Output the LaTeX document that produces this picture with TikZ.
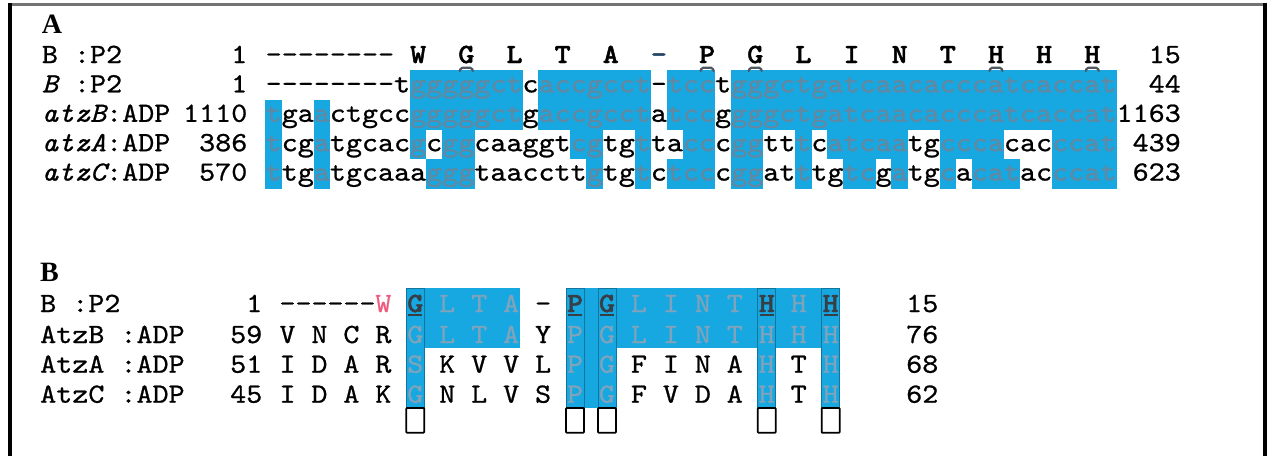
\documentclass[tikz,border=0pt]{standalone}
\usepackage{fontspec}
\newfontfamily\seqfont{lmmono10-regular}[Extension=.otf, ItalicFont=lmmono10-italic, FakeStretch=1.1, FakeBold=0.8]
\newfontfamily\seqbfont{lmmonolt10-bold}[Extension=.otf, FakeStretch=1.1, FakeBold=1.6]
\newfontfamily\panelfont{Liberation Serif}
\definecolor{hlblue}{RGB}{24,168,225}
\definecolor{shdA}{RGB}{98,136,162}
\definecolor{shdB}{RGB}{128,163,188}
\definecolor{consB}{RGB}{55,62,70}
\definecolor{gapblue}{RGB}{35,70,100}
\definecolor{wpink}{RGB}{240,90,125}
\definecolor{markgray}{RGB}{80,88,98}
\pgfdeclarelayer{base}
\pgfdeclarelayer{bg}
\pgfsetlayers{base,bg,main}

\tikzset{
  seq/.style={font=\seqfont\fontsize{27.8}{30}\selectfont, inner sep=0pt, anchor=base},
  aa/.style={font=\seqbfont\fontsize{27.8}{30}\selectfont},
  shdtxt/.style={text=shdA},
  lightres/.style={text=shdB},
  consres/.style={font=\seqbfont\fontsize{27.8}{30}\selectfont, text=consB},
  panel/.style={font=\panelfont\bfseries\fontsize{28}{30}\selectfont, inner sep=0pt, anchor=base west},
  lbl/.style={seq, anchor=base west},
  numl/.style={seq, anchor=base east},
  numr/.style={seq, anchor=base west},
  hl/.style={fill=hlblue},
  capmark/.style={draw=markgray, line width=2.2pt, rounded corners=1.5pt, line cap=round},
  ulmark/.style={draw=consB, line width=1.4pt},
  whitebox/.style={draw=black, fill=white, line width=1.8pt, rounded corners=0.8pt},
  colframe/.style={draw=hlblue!70!black, line width=0.6pt},
  frameline/.style={line width=3.2pt},
}

% nucleotide rows: upper-case letters mark shaded (identical) positions
\newcount\ntcol
\def\ntrow#1#2{\global\ntcol=0 \def\ntrowid{#1}\ntloop#2\relax}
\def\ntloop#1{\ifx#1\relax\else\global\advance\ntcol by 1 \ntcell{#1}\expandafter\ntloop\fi}
\def\ntcell#1{%
  \lowercase{\def\lc{#1}}%
  \pgfmathsetmacro\cx{257.675+\the\ntcol*16.05}%
  \pgfmathsetmacro\rtop{70+(\ntrowid-2)*29.75}%
  \pgfmathsetmacro\bl{63+(\ntrowid-1)*29.4}%
  \if#1\lc
    \node[seq] (n\ntrowid-\the\ntcol) at (\cx,\bl) {#1};%
  \else
    \begin{pgfonlayer}{bg}%
      \fill[hl] (\cx-8.25,\rtop-0.2) rectangle (\cx+8.25,\rtop+29.95);%
    \end{pgfonlayer}%
    \node[seq,shdtxt] (n\ntrowid-\the\ntcol) at (\cx,\bl) {\lc};%
  \fi}

\begin{document}
\begin{tikzpicture}[x=1pt,y=-1pt]
\useasboundingbox (0,0) rectangle (1272,456);
\begin{pgfonlayer}{base}
  \fill[white] (0,0) rectangle (1272,456);
\end{pgfonlayer}

% frame
\draw[frameline, black!55] (8.5,4.5) -- (1266.5,4.5);
\draw[frameline] (10,3) -- (10,456);
\draw[frameline] (1265,3) -- (1265,456);

% ---------------- panel A ----------------
\node[panel] (pA) at (41.7,33.3) {A};

\node[lbl] (la1) at (41.7,63) {B :P2};
\node[lbl] (la2) at (41.7,92.4) {\itshape B\upshape{} :P2};
\node[lbl] (la3) at (41.7,121.8) {\itshape atzB\upshape:ADP};
\node[lbl] (la4) at (41.7,151.2) {\itshape atzA\upshape:ADP};
\node[lbl] (la5) at (41.7,180.6) {\itshape atzC\upshape:ADP};

\node[numl] (sa1) at (247.5,63) {1};
\node[numl] (sa2) at (247.5,92.4) {1};
\node[numl] (sa3) at (247.5,121.8) {1110};
\node[numl] (sa4) at (247.5,151.2) {386};
\node[numl] (sa5) at (247.5,180.6) {570};

\node[numl] (ea1) at (1181,63) {15};
\node[numl] (ea2) at (1181,92.4) {44};
\node[numl] (ea3) at (1181,121.8) {1163};
\node[numl] (ea4) at (1181,151.2) {439};
\node[numl] (ea5) at (1181,180.6) {623};

% translated peptide
\foreach \c in {1,...,8}
  \node[seq] (ad\c) at ({257.675+\c*16.05},63) {-};
\foreach \c/\a [count=\i] in {10/W,13/G,16/L,19/T,22/A,28/P,31/G,34/L,37/I,40/N,43/T,46/H,49/H,52/H}
  \node[seq,aa] (aa\i) at ({257.675+\c*16.05},63) {\a};
\node[seq,aa,text=gapblue] (aagap) at ({257.675+25*16.05},63) {-};

% nucleotide alignment
\ntrow{2}{--------tGGGGGCTcACCGCCT-TCCtGGGCTGATCAACACCCATCACCAT}
\ntrow{3}{TgaActgccGGGGGCTgACCGCCTaTCCgGGGCTGATCAACACCCATCACCAT}
\ntrow{4}{TcgAtgcacGcGGcaaggtCGtgTtaCCcGGttTcATCAAtgCCCAcacCCAT}
\ntrow{5}{TtgAtgcaaaGGGtaaccttGtgTcTCCcGGatTtgTCgAtgCaCATacCCAT}

% marks over conserved codons
\foreach \c in {13,28,31,46,52}
  \draw[capmark] ({257.675+\c*16.05-6.5},71) -- ({257.675+\c*16.05-5.5},67.8)
     -- ({257.675+\c*16.05+5.5},67.8) -- ({257.675+\c*16.05+6.5},71);

% ---------------- panel B ----------------
\node[panel] (pB) at (40,281.7) {B};

\node[lbl] (lb1) at (40,312) {B :P2};
\node[lbl] (lb2) at (40,343) {AtzB :ADP};
\node[lbl] (lb3) at (40,372.7) {AtzA :ADP};
\node[lbl] (lb4) at (40,402.7) {AtzC :ADP};

\node[numl] (sb1) at (262.5,312) {1};
\node[numl] (sb2) at (262.5,343) {59};
\node[numl] (sb3) at (262.5,372.7) {51};
\node[numl] (sb4) at (262.5,402.7) {45};

\node[numr] (eb1) at (906,312) {15};
\node[numr] (eb2) at (906,343) {76};
\node[numr] (eb3) at (906,372.7) {68};
\node[numr] (eb4) at (906,402.7) {62};

% shaded blocks
\begin{pgfonlayer}{bg}
  \fill[hl] ({287.5+31.95*4-9},288.3) rectangle ({287.5+31.95*4+9},408);
  \fill[hl] ({287.5+31.95*4-9},288.3) rectangle ({287.5+31.95*7+9},348.3);
  \fill[hl] ({287.5+31.95*9-9},288.3) rectangle ({287.5+31.95*10+9},408);
  \fill[hl] ({287.5+31.95*9-9},288.3) rectangle ({287.5+31.95*17+9},348.3);
  \fill[hl] ({287.5+31.95*15-9},288.3) rectangle ({287.5+31.95*15+9},408);
  \fill[hl] ({287.5+31.95*17-9},288.3) rectangle ({287.5+31.95*17+9},408);
  \foreach \k in {4,9,10,15,17}
    \draw[colframe] ({287.5+31.95*\k-9},408) -- ({287.5+31.95*\k-9},288.3)
       -- ({287.5+31.95*\k+9},288.3) -- ({287.5+31.95*\k+9},408);
\end{pgfonlayer}
\foreach \k in {4,9,10,15,17}
  \draw[whitebox] ({287.5+31.95*\k-9},408) rectangle ({287.5+31.95*\k+9},432.7);

% row 1
\foreach \j in {1,...,6}
  \node[seq] (bd\j) at ({287.5+31.95*3-15.975*\j},312) {-};
\node[seq,text=wpink] (bw) at ({287.5+31.95*3},312) {W};
\foreach \k/\a/\s in {4/G/consres,5/L/lightres,6/T/lightres,7/A/lightres,8/-/seq,
    9/P/consres,10/G/consres,11/L/lightres,12/I/lightres,13/N/lightres,14/T/lightres,
    15/H/consres,16/H/lightres,17/H/consres}
  \node[seq,\s] (b1-\k) at ({287.5+31.95*\k},312) {\a};
\foreach \k in {4,9,10,15,17}
  \draw[ulmark] ({287.5+31.95*\k-7},314.8) -- ({287.5+31.95*\k+7},314.8);

% row 2
\foreach \k/\a/\s in {0/V/seq,1/N/seq,2/C/seq,3/R/seq,4/G/lightres,5/L/lightres,
    6/T/lightres,7/A/lightres,8/Y/seq,9/P/lightres,10/G/lightres,11/L/lightres,
    12/I/lightres,13/N/lightres,14/T/lightres,15/H/lightres,16/H/lightres,17/H/lightres}
  \node[seq,\s] (b2-\k) at ({287.5+31.95*\k},343) {\a};

% row 3
\foreach \k/\a/\s in {0/I/seq,1/D/seq,2/A/seq,3/R/seq,4/S/lightres,5/K/seq,
    6/V/seq,7/V/seq,8/L/seq,9/P/lightres,10/G/lightres,11/F/seq,
    12/I/seq,13/N/seq,14/A/seq,15/H/lightres,16/T/seq,17/H/lightres}
  \node[seq,\s] (b3-\k) at ({287.5+31.95*\k},372.7) {\a};

% row 4
\foreach \k/\a/\s in {0/I/seq,1/D/seq,2/A/seq,3/K/seq,4/G/lightres,5/N/seq,
    6/L/seq,7/V/seq,8/S/seq,9/P/lightres,10/G/lightres,11/F/seq,
    12/V/seq,13/D/seq,14/A/seq,15/H/lightres,16/T/seq,17/H/lightres}
  \node[seq,\s] (b4-\k) at ({287.5+31.95*\k},402.7) {\a};

\end{tikzpicture}
\end{document}
